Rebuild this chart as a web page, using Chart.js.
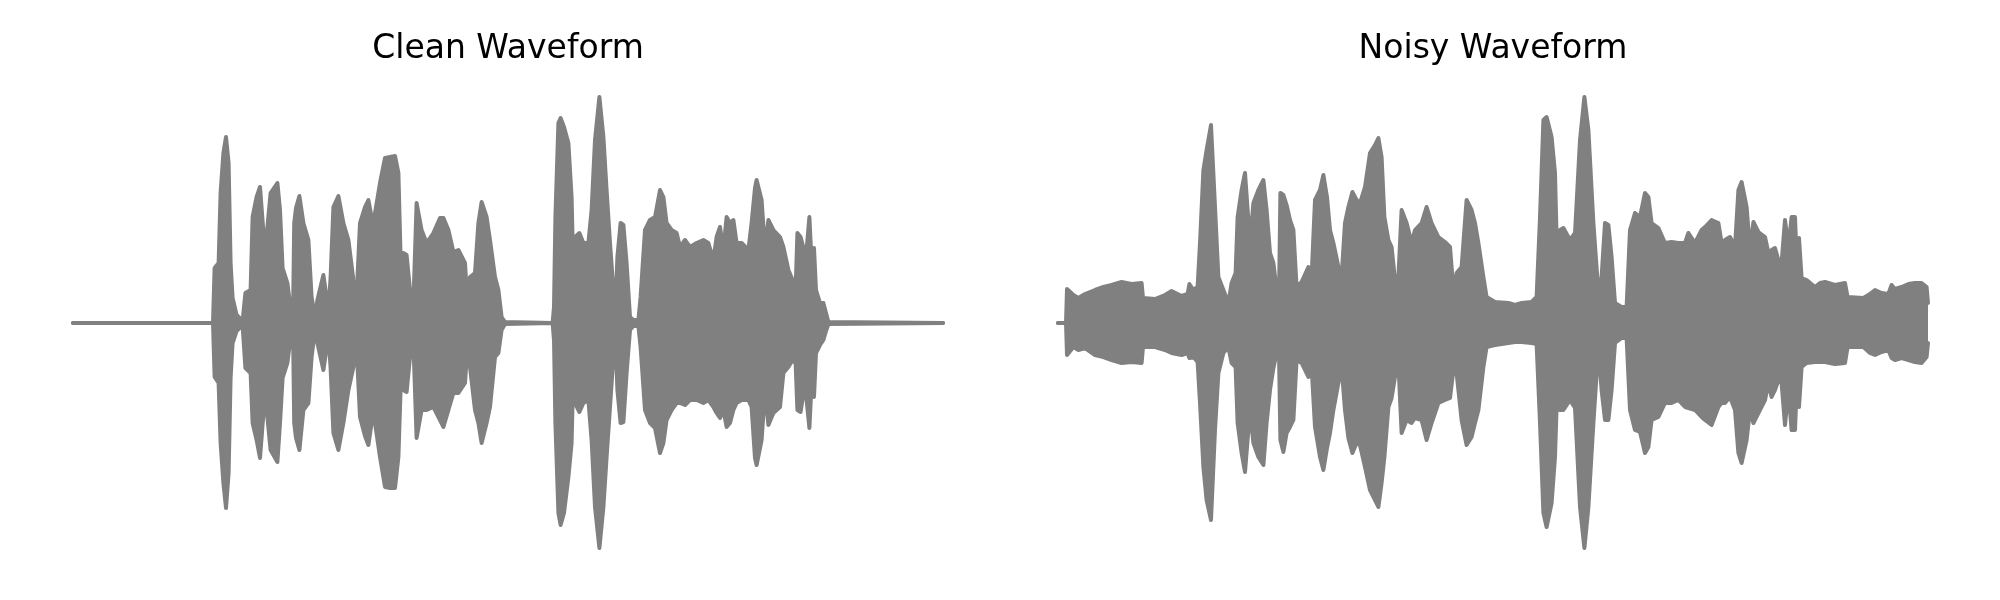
<!DOCTYPE html>
<html>
<head>
<meta charset="utf-8">
<script src="https://cdn.jsdelivr.net/npm/chart.js@4.4.0/dist/chart.umd.min.js"></script>
<style>
  html, body { margin: 0; padding: 0; background: #fff; }
  #wrap { position: relative; width: 2000px; height: 600px; }
  .panel { position: absolute; top: 0; width: 1000px; height: 600px; }
</style>
</head>
<body>
<div id="wrap">
  <div class="panel" style="left:0"><canvas id="cleanChart"></canvas></div>
  <div class="panel" style="left:1000px"><canvas id="noisyChart"></canvas></div>
</div>
<script>
// envelope of each waveform (time in s, amplitude)
const cleanTime = [
  0, 0.700, 0.708, 0.728, 0.738, 0.752, 0.765, 0.778, 0.788, 0.798,
  0.818, 0.848, 0.862, 0.888, 0.898, 0.918, 0.935, 0.960, 0.988, 1.022,
  1.035, 1.048, 1.072, 1.090, 1.100, 1.106, 1.115, 1.132, 1.152, 1.177,
  1.193, 1.210, 1.222, 1.252, 1.272, 1.278, 1.288, 1.302, 1.327, 1.352,
  1.377, 1.402, 1.418, 1.435, 1.460, 1.477, 1.493, 1.500, 1.510, 1.535,
  1.560, 1.585, 1.610, 1.627, 1.638, 1.652, 1.668, 1.685, 1.702, 1.718,
  1.743, 1.768, 1.802, 1.835, 1.852, 1.877, 1.902, 1.927, 1.960, 1.972,
  1.985, 2.010, 2.027, 2.043, 2.068, 2.085, 2.110, 2.127, 2.143, 2.160,
  2.398, 2.405, 2.412, 2.427, 2.438, 2.455, 2.477, 2.493, 2.502, 2.510,
  2.532, 2.552, 2.577, 2.593, 2.610, 2.632, 2.652, 2.668, 2.685, 2.702,
  2.712, 2.722, 2.738, 2.752, 2.768, 2.785, 2.802, 2.827, 2.838, 2.860,
  2.885, 2.910, 2.935, 2.952, 2.968, 2.993, 3.018, 3.035, 3.060, 3.085,
  3.118, 3.152, 3.177, 3.202, 3.218, 3.235, 3.252, 3.268, 3.285, 3.302,
  3.318, 3.343, 3.377, 3.393, 3.410, 3.418, 3.443, 3.460, 3.477, 3.502,
  3.535, 3.552, 3.577, 3.598, 3.613, 3.622, 3.638, 3.655, 3.668, 3.682,
  3.693, 3.705, 3.715, 3.735, 3.752, 3.765, 3.777, 4.350
];
const cleanUpper = [
  0, 0, .220, .240, .520, .680, .744, .640, .240, .100,
  .032, .008, .120, .132, .424, .504, .544, .280, .520, .560,
  .452, .220, .160, .044, .020, .400, .460, .508, .400, .332,
  .104, .024, .092, .192, .080, .052, .184, .464, .508, .400,
  .332, .172, .104, .400, .464, .492, .424, .180, .440, .560,
  .660, .664, .668, .600, .264, .280, .272, .132, .080, .480,
  .372, .320, .360, .420, .420, .372, .284, .292, .240, .080,
  .184, .200, .400, .484, .424, .332, .184, .132, .024, .004,
  0, .064, .424, .800, .820, .784, .720, .504, .184, .344,
  .360, .320, .320, .452, .732, .904, .744, .532, .320, .132,
  .052, .264, .400, .392, .240, .024, .012, .012, .104, .372,
  .412, .424, .532, .504, .400, .372, .360, .304, .332, .304,
  .320, .332, .320, .252, .344, .384, .292, .424, .400, .412,
  .320, .320, .292, .400, .540, .572, .492, .292, .412, .372,
  .344, .304, .212, .172, .132, .360, .344, .292, .292, .424,
  .240, .300, .132, .080, .080, .040, .004, 0
];
const cleanLower = [
  0, 0, -.216, -.240, -.480, -.640, -.740, -.600, -.220, -.080,
  -.032, -.008, -.180, -.200, -.400, -.468, -.540, -.280, -.508, -.556,
  -.400, -.220, -.160, -.044, -.020, -.400, -.460, -.508, -.348, -.320,
  -.136, -.028, -.080, -.188, -.080, -.052, -.180, -.440, -.508, -.400,
  -.268, -.176, -.096, -.376, -.452, -.488, -.400, -.320, -.400, -.536,
  -.656, -.660, -.660, -.536, -.268, -.268, -.276, -.136, -.080, -.460,
  -.348, -.348, -.336, -.388, -.416, -.348, -.280, -.280, -.240, -.096,
  -.176, -.348, -.400, -.480, -.400, -.336, -.136, -.120, -.028, -.004,
  0, -.068, -.400, -.760, -.808, -.760, -.616, -.480, -.176, -.320,
  -.356, -.320, -.308, -.468, -.736, -.900, -.736, -.536, -.336, -.136,
  -.048, -.268, -.400, -.396, -.200, -.028, -.012, -.012, -.096, -.348,
  -.400, -.420, -.520, -.480, -.388, -.348, -.320, -.320, -.328, -.308,
  -.308, -.320, -.308, -.336, -.360, -.380, -.348, -.416, -.400, -.348,
  -.320, -.308, -.308, -.336, -.540, -.568, -.468, -.268, -.408, -.360,
  -.336, -.200, -.176, -.148, -.160, -.348, -.356, -.268, -.308, -.420,
  -.240, -.296, -.120, -.088, -.068, -.032, -.004, 0
];

const noisyTime = [
  0, 0.040, 0.045, 0.077, 0.102, 0.135, 0.185, 0.227, 0.268, 0.318,
  0.368, 0.418, 0.425, 0.485, 0.535, 0.568, 0.618, 0.648, 0.657, 0.677,
  0.698, 0.710, 0.727, 0.743, 0.765, 0.785, 0.802, 0.827, 0.852, 0.868,
  0.888, 0.898, 0.918, 0.935, 0.960, 0.977, 1.002, 1.027, 1.043, 1.060,
  1.077, 1.093, 1.105, 1.112, 1.127, 1.143, 1.160, 1.177, 1.193, 1.218,
  1.252, 1.268, 1.285, 1.310, 1.327, 1.345, 1.360, 1.377, 1.402, 1.418,
  1.435, 1.452, 1.472, 1.493, 1.510, 1.535, 1.560, 1.585, 1.602, 1.618,
  1.632, 1.652, 1.668, 1.685, 1.702, 1.718, 1.743, 1.768, 1.785, 1.818,
  1.843, 1.868, 1.902, 1.935, 1.960, 1.977, 1.993, 2.018, 2.043, 2.068,
  2.085, 2.102, 2.127, 2.143, 2.185, 2.252, 2.285, 2.318, 2.368, 2.393,
  2.410, 2.427, 2.443, 2.468, 2.485, 2.498, 2.510, 2.527, 2.560, 2.585,
  2.610, 2.632, 2.652, 2.677, 2.702, 2.718, 2.735, 2.752, 2.768, 2.785,
  2.818, 2.843, 2.860, 2.885, 2.910, 2.935, 2.952, 2.968, 3.002, 3.035,
  3.068, 3.102, 3.135, 3.152, 3.185, 3.218, 3.235, 3.268, 3.302, 3.318,
  3.335, 3.360, 3.385, 3.402, 3.418, 3.443, 3.460, 3.477, 3.502, 3.535,
  3.552, 3.568, 3.585, 3.602, 3.618, 3.635, 3.652, 3.668, 3.685, 3.693,
  3.705, 3.718, 3.743, 3.785, 3.810, 3.835, 3.885, 3.935, 3.948, 4.027,
  4.060, 4.085, 4.118, 4.152, 4.168, 4.185, 4.218, 4.252, 4.285, 4.318,
  4.343, 4.350
];
const noisyUpper = [
  0, 0, .136, .112, .100, .116, .132, .144, .152, .164,
  .156, .160, .100, .096, .112, .128, .108, .116, .156, .132,
  .144, .320, .612, .692, .792, .464, .184, .132, .080, .160,
  .200, .424, .532, .600, .320, .480, .532, .572, .452, .280,
  .240, .132, .104, .520, .512, .472, .412, .372, .144, .164,
  .224, .184, .492, .532, .592, .504, .372, .320, .224, .184,
  .400, .464, .524, .492, .480, .544, .680, .712, .740, .664,
  .424, .332, .304, .172, .184, .452, .400, .320, .372, .400,
  .464, .400, .344, .324, .304, .132, .200, .224, .492, .452,
  .400, .320, .184, .104, .084, .080, .072, .080, .084, .104,
  .424, .812, .824, .744, .600, .184, .372, .380, .332, .360,
  .732, .904, .772, .400, .120, .184, .400, .392, .264, .080,
  .064, .064, .372, .440, .424, .520, .504, .400, .380, .320,
  .324, .320, .320, .360, .320, .372, .384, .412, .400, .320,
  .332, .344, .304, .532, .564, .464, .292, .404, .364, .344,
  .280, .292, .300, .252, .240, .412, .304, .424, .424, .264,
  .340, .180, .172, .144, .160, .164, .152, .160, .104, .100,
  .116, .132, .120, .116, .152, .136, .144, .156, .160, .160,
  .144, .080
];
const noisyLower = [
  0, 0, -.128, -.096, -.108, -.100, -.128, -.136, -.148, -.160,
  -.156, -.160, -.096, -.096, -.108, -.120, -.128, -.120, -.140, -.136,
  -.156, -.320, -.576, -.708, -.788, -.428, -.200, -.120, -.096, -.160,
  -.176, -.400, -.520, -.596, -.348, -.480, -.536, -.568, -.400, -.268,
  -.180, -.120, -.120, -.468, -.516, -.440, -.416, -.388, -.148, -.160,
  -.216, -.176, -.416, -.536, -.588, -.500, -.440, -.348, -.240, -.176,
  -.348, -.460, -.520, -.480, -.488, -.576, -.668, -.708, -.736, -.640,
  -.536, -.336, -.300, -.216, -.160, -.440, -.388, -.400, -.380, -.388,
  -.468, -.400, -.320, -.308, -.300, -.188, -.200, -.388, -.488, -.456,
  -.400, -.348, -.176, -.096, -.088, -.080, -.076, -.076, -.080, -.084,
  -.400, -.760, -.816, -.720, -.536, -.216, -.348, -.348, -.308, -.340,
  -.736, -.900, -.736, -.400, -.096, -.268, -.388, -.388, -.268, -.080,
  -.060, -.060, -.348, -.428, -.436, -.520, -.496, -.388, -.376, -.320,
  -.320, -.308, -.336, -.340, -.348, -.376, -.388, -.408, -.336, -.320,
  -.320, -.296, -.348, -.520, -.560, -.468, -.348, -.400, -.360, -.308,
  -.240, -.296, -.268, -.228, -.240, -.408, -.268, -.428, -.428, -.268,
  -.336, -.176, -.160, -.156, -.156, -.156, -.164, -.160, -.096, -.096,
  -.120, -.128, -.116, -.108, -.140, -.148, -.140, -.148, -.156, -.160,
  -.136, -.080
];

const waveColor = '#808080';

function drawWave(id, title, times, upper, lower, pad) {
  const toPts = vals => times.map((t, i) => ({ x: t, y: vals[i] }));
  const lineStyle = {
    borderColor: waveColor,
    backgroundColor: waveColor,
    borderWidth: 4,
    borderJoinStyle: 'round',
    borderCapStyle: 'round',
    pointRadius: 0,
    tension: 0
  };
  new Chart(document.getElementById(id).getContext('2d'), {
    type: 'line',
    data: {
      datasets: [
        Object.assign({ data: toPts(upper), fill: '+1' }, lineStyle),
        Object.assign({ data: toPts(lower), fill: false }, lineStyle)
      ]
    },
    options: {
      responsive: true,
      maintainAspectRatio: false,
      animation: false,
      layout: { padding: pad },
      scales: {
        x: { type: 'linear', display: false, min: -0.2175, max: 4.5675 },
        y: { display: false, min: -0.932, max: 0.932 }
      },
      plugins: {
        legend: { display: false },
        tooltip: { enabled: false },
        title: {
          display: true,
          text: title,
          color: '#000',
          font: { family: 'DejaVu Sans', size: 33, weight: 'normal' },
          padding: { top: 30, bottom: 20.4 }
        }
      }
    }
  });
}

drawWave('cleanChart', 'Clean Waveform', cleanTime, cleanUpper, cleanLower,
  { left: 29.5, right: 13.5, top: 0, bottom: 44 });
drawWave('noisyChart', 'Noisy Waveform', noisyTime, noisyUpper, noisyLower,
  { left: 14.5, right: 28.5, top: 0, bottom: 44 });
</script>
</body>
</html>
